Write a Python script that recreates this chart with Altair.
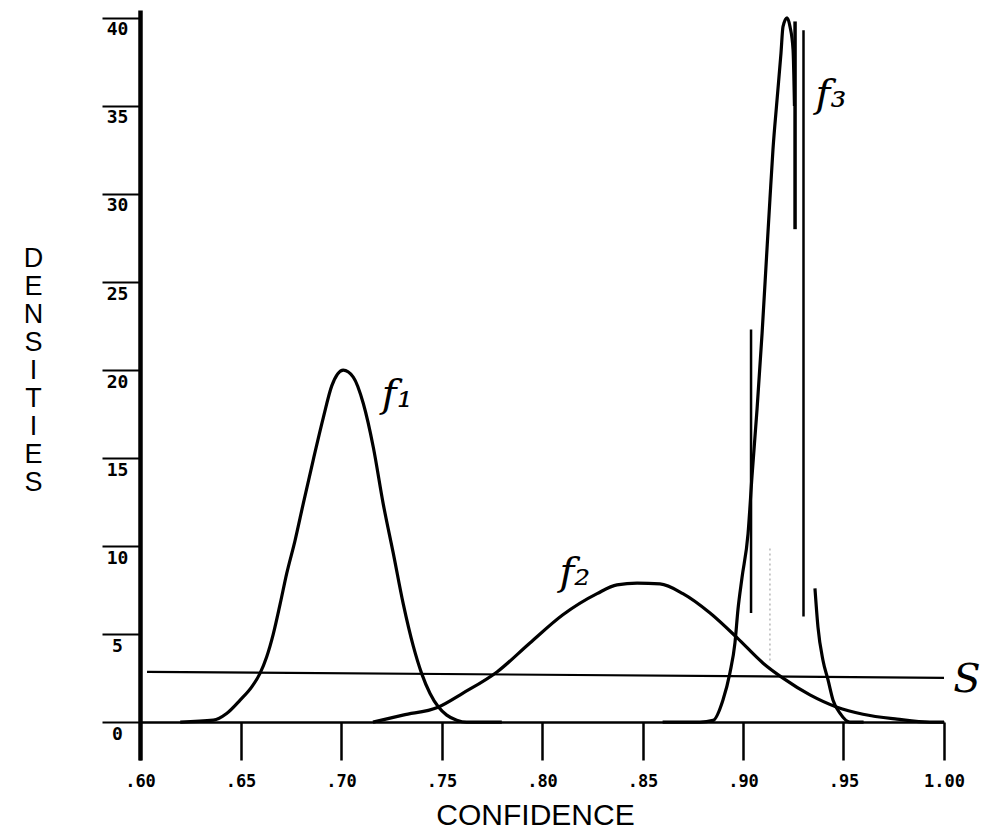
import altair as alt
import pandas as pd

# ---- data ----
f1_conf = [0.620, 0.6365, 0.6431, 0.6498, 0.6556, 0.6597, 0.6630, 0.6663, 0.6697, 0.6730,
           0.6771, 0.6812, 0.6862, 0.6912, 0.6954, 0.7011, 0.7061, 0.7111, 0.7161, 0.7210,
           0.7260, 0.7310, 0.7360, 0.7401, 0.7443, 0.7484, 0.7526, 0.7576, 0.7625, 0.780]
f1_dens = [0.0, 0.11, 0.49, 1.25, 2.0, 2.77, 3.7, 5.0, 6.7, 8.45,
           10.3, 12.4, 14.9, 17.3, 19.1, 20.0, 19.6, 18.1, 15.6, 12.4,
           9.6, 6.7, 4.3, 2.77, 1.63, 0.87, 0.4, 0.11, 0.0, 0.0]

f2_conf = [0.7159, 0.7308, 0.7483, 0.7607, 0.7776, 0.7940, 0.8104, 0.8274, 0.8373, 0.8473,
           0.8587, 0.8701, 0.8836, 0.8970, 0.9100, 0.9199, 0.9333, 0.9468, 0.9597, 0.9766,
           0.9930, 1.000]
f2_dens = [0.0, 0.4, 0.85, 1.65, 2.85, 4.5, 6.1, 7.3, 7.8, 7.9,
           7.85, 7.3, 6.2, 4.8, 3.35, 2.5, 1.55, 0.85, 0.45, 0.17,
           0.0, 0.0]

f3a_conf = [0.860, 0.8786, 0.8851, 0.8900, 0.8935, 0.8960, 0.8975, 0.8995, 0.9025, 0.9045,
            0.9070, 0.9095, 0.9119, 0.9134, 0.9149, 0.9169, 0.9189, 0.9199, 0.9219, 0.9234,
            0.9249, 0.9256]
f3a_dens = [0.0, 0.0, 0.1, 1.25, 2.8, 4.5, 6.4, 8.2, 10.7, 14.0,
            17.8, 22.1, 26.8, 29.7, 32.5, 35.3, 38.0, 39.5, 40.0, 39.5,
            38.2, 35.0]

f3b_conf = [0.9358, 0.9373, 0.9398, 0.9423, 0.9448, 0.9483, 0.9532, 0.960]
f3b_dens = [7.6, 5.4, 3.5, 2.4, 1.25, 0.5, 0.0, 0.0]

s_conf = [0.6035, 1.000]
s_dens = [2.86, 2.52]

rule_conf = [0.9040, 0.9259, 0.9301]
rule_lo = [6.2, 28.0, 6.0]
rule_hi = [22.3, 39.8, 39.3]
rule_w = [2.5, 3.5, 2.5]

faint_conf = [0.9134]
faint_lo = [3.5]
faint_hi = [10.0]

label_text = ["f\u2081", "f\u2082", "f\u2083"]
label_conf = [0.7280, 0.8164, 0.9438]
label_dens = [18.6, 8.5, 35.6]

s_text = ["S"]
s_text_conf = [1.0114]
s_text_dens = [2.4]

x_ticks = [0.60, 0.65, 0.70, 0.75, 0.80, 0.85, 0.90, 0.95, 1.00]
y_ticks = [0, 5, 10, 15, 20, 25, 30, 35, 40]
y_title = ["D", "E", "N", "S", "I", "T", "I", "E", "S"]

# ---- tables ----
curves = pd.concat([
    pd.DataFrame({"conf": f1_conf, "dens": f1_dens, "series": "f1"}),
    pd.DataFrame({"conf": f2_conf, "dens": f2_dens, "series": "f2"}),
    pd.DataFrame({"conf": f3a_conf, "dens": f3a_dens, "series": "f3a"}),
    pd.DataFrame({"conf": f3b_conf, "dens": f3b_dens, "series": "f3b"}),
], ignore_index=True)
s_df = pd.DataFrame({"conf": s_conf, "dens": s_dens})
rules_df = pd.DataFrame({"conf": rule_conf, "dens": rule_lo, "hi": rule_hi, "w": rule_w})
faint_df = pd.DataFrame({"conf": faint_conf, "dens": faint_lo, "hi": faint_hi})
lab_df = pd.DataFrame({"t": label_text, "conf": label_conf, "dens": label_dens})
s_lab_df = pd.DataFrame({"t": s_text, "conf": s_text_conf, "dens": s_text_dens})

xscale = alt.Scale(domain=[0.6, 1.0], nice=False, zero=False)
yscale = alt.Scale(domain=[-2.15, 40.45], nice=False, zero=False)

x_axis = alt.Axis(
    values=x_ticks, format=".2f",
    labelExpr="datum.value < 1 ? substring(datum.label, 1) : datum.label",
    offset=-38, tickSize=38, tickWidth=2.5, domainWidth=2.5,
    labelPadding=13, labelBaseline="top", labelFlush=False, labelOverlap=False,
    labelFont="DejaVu Sans Mono", labelFontWeight="bold", labelFontSize=17,
    title="CONFIDENCE", titleFont="Liberation Sans", titleFontWeight="normal",
    titleFontSize=30, titleX=395, titleY=102, titleAlign="center",
    titleBaseline="alphabetic",
)
y_axis = alt.Axis(
    values=y_ticks, tickSize=38, tickWidth=2, domainWidth=4.5,
    labelAlign="center", labelPadding=-15, labelBaseline="middle", labelOffset=12,
    labelFlush=False, labelOverlap=False, labelBound=False,
    labelFont="DejaVu Sans Mono", labelFontWeight="bold", labelFontSize=18,
    title=y_title, titleAngle=0, titleX=-107, titleY=235, titleAlign="center",
    titleBaseline="top", titleLineHeight=28, titleFont="Liberation Sans",
    titleFontWeight="normal", titleFontSize=27,
)

X = alt.X("conf:Q", scale=xscale, axis=x_axis)
Y = alt.Y("dens:Q", scale=yscale, axis=y_axis)

curve_layer = alt.Chart(curves).mark_line(
    color="black", strokeWidth=3.2, interpolate="monotone"
).encode(x=X, y=Y, detail="series:N")

s_layer = alt.Chart(s_df).mark_line(color="black", strokeWidth=2.2).encode(x=X, y=Y)

rule_layer = alt.Chart(rules_df).mark_rule(color="black").encode(
    x=X, y=Y, y2="hi:Q",
    strokeWidth=alt.StrokeWidth("w:Q", scale=None),
)

faint_layer = alt.Chart(faint_df).mark_rule(
    color="#b8b8b8", strokeWidth=1.5, strokeDash=[2, 3]
).encode(x=X, y=Y, y2="hi:Q")

label_layer = alt.Chart(lab_df).mark_text(
    font="DejaVu Serif", fontStyle="italic", fontSize=40, color="black",
    align="center", baseline="middle",
).encode(x=X, y=Y, text="t:N")

s_label_layer = alt.Chart(s_lab_df).mark_text(
    font="DejaVu Serif", fontStyle="italic", fontSize=40, color="black",
    align="center", baseline="middle",
).encode(x=X, y=Y, text="t:N")

chart = alt.layer(
    curve_layer, s_layer, rule_layer, faint_layer, label_layer, s_label_layer
).properties(
    width=804, height=750,
    autosize=alt.AutoSizeParams(type="none"),
    padding={"left": 132, "top": 2, "right": 36, "bottom": 72},
    background="white",
).configure_view(
    stroke=None
).configure_axis(
    grid=False, domainColor="black", tickColor="black", labelColor="black",
    titleColor="black",
)

chart.save("out.html", embed_options={"renderer": "svg", "actions": False})
